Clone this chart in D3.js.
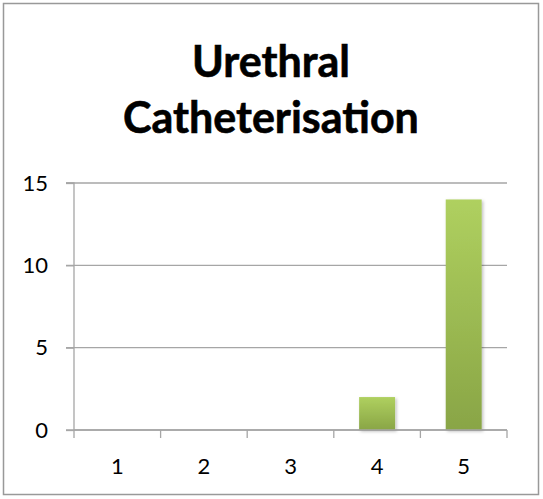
<!DOCTYPE html>
<html><head><meta charset="utf-8">
<script src="https://cdn.jsdelivr.net/npm/d3@7"></script>
<style>html,body{margin:0;padding:0;background:#fff;}</style>
</head><body>
<svg id="c" width="543" height="499"></svg>
<script>
const categories = ["1","2","3","4","5"];
const values = [0,0,0,2,14];
const yTicks = [0,5,10,15];
const titleLines = ["Urethral","Catheterisation"];

const svg = d3.select("#c");
const W=543,H=499;
const m={left:74,right:36,top:183,bottom:69};
const x=d3.scaleBand().domain(categories).range([m.left,W-m.right]).paddingInner(0.585).paddingOuter(0.2925);
const xb=d3.scaleBand().domain(categories).range([m.left,W-m.right]);
const y=d3.scaleLinear().domain([0,15]).range([H-m.bottom,m.top]);

svg.append("rect").attr("x",3.5).attr("y",3.5).attr("width",535).attr("height",491)
  .attr("fill","#fff").attr("stroke","#999").attr("stroke-width",1.5);

const defs=svg.append("defs");
const g=defs.append("linearGradient").attr("id","bg").attr("x1",0).attr("y1",0).attr("x2",0).attr("y2",1);
g.append("stop").attr("offset","0%").attr("stop-color","#afd05f");
g.append("stop").attr("offset","100%").attr("stop-color","#89a546");
const f=defs.append("filter").attr("id","sh").attr("x","-20%").attr("y","-20%").attr("width","150%").attr("height","150%");
f.append("feDropShadow").attr("dx",1.5).attr("dy",1.5).attr("stdDeviation",1.5).attr("flood-color","#000").attr("flood-opacity",0.25);

const font="Lato, 'Open Sans', sans-serif";
svg.append("g").selectAll("text").data(titleLines).join("text")
  .attr("x",271).attr("y",(d,i)=>77+i*56).attr("text-anchor","middle")
  .attr("font-family",font).attr("font-weight","bold").attr("font-size",43).attr("fill","#000")
  .attr("stroke","#000").attr("stroke-width",0.6)
  .text(d=>d);

// gridlines
svg.append("g").selectAll("line").data(yTicks).join("line")
  .attr("x1",m.left-8).attr("x2",W-m.right).attr("y1",d=>y(d)).attr("y2",d=>y(d))
  .attr("stroke","#a6a6a6").attr("stroke-width",1.3);

// y axis
const ya=svg.append("g").attr("transform",`translate(${m.left},0)`)
  .call(d3.axisLeft(y).tickValues(yTicks).tickSize(8).tickPadding(18));
ya.select(".domain").attr("stroke","#a6a6a6").attr("stroke-width",1.3).attr("d",`M-8,${y(15)}H0V${y(0)}`);
ya.selectAll(".tick line").attr("stroke","#a6a6a6").attr("stroke-width",1.3);
ya.selectAll("text").attr("font-family",font).attr("font-size",22).attr("fill","#000");

// bars
svg.append("g").selectAll("rect").data(values).join("rect")
  .attr("x",(d,i)=>x(categories[i])).attr("width",x.bandwidth())
  .attr("y",d=>y(d)).attr("height",d=>y(0)-y(d))
  .attr("fill","url(#bg)").attr("filter","url(#sh)")
  .style("display",d=>d>0?null:"none");

// x axis
const xa=svg.append("g").attr("transform",`translate(0,${y(0)})`)
  .call(d3.axisBottom(xb).tickSize(0).tickPadding(28));
xa.select(".domain").attr("stroke","#a6a6a6").attr("stroke-width",1.3).attr("d",`M${m.left},0H${W-m.right}`);
xa.selectAll("text").attr("font-family",font).attr("font-size",22).attr("fill","#000");
xa.append("g").selectAll("line").data(d3.range(categories.length+1)).join("line")
  .attr("x1",i=>m.left+i*xb.step()).attr("x2",i=>m.left+i*xb.step()).attr("y1",0).attr("y2",8)
  .attr("stroke","#a6a6a6").attr("stroke-width",1.3);
</script>
</body></html>
